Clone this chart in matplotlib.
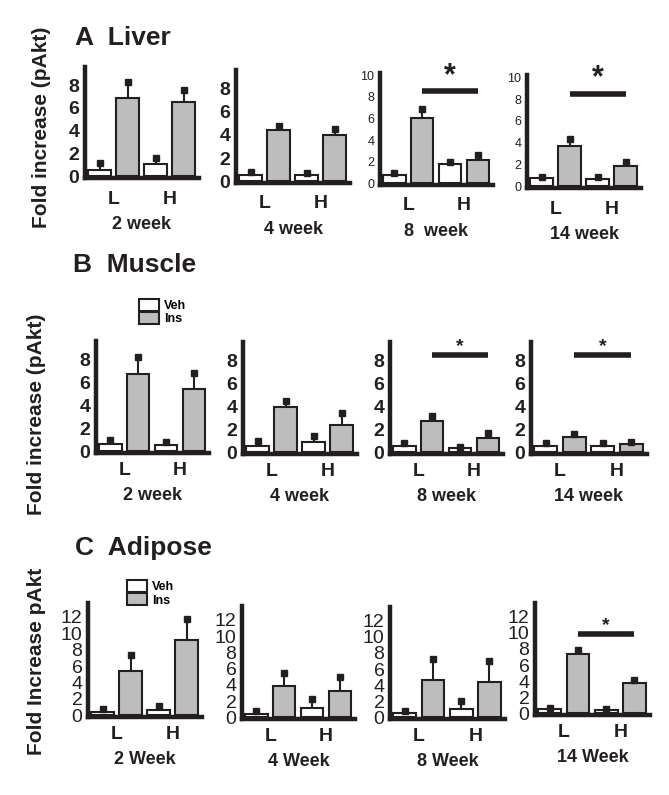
import numpy as np
import matplotlib
matplotlib.use("Agg")
import matplotlib.pyplot as plt
from matplotlib.patches import Patch

plt.rcParams['font.family'] = ['Liberation Sans', 'DejaVu Sans']

W, H = 669, 795
ink = '#231f20'
gray = '#bdbdbd'

# bar order in every panel: Veh L, Ins L, Veh H, Ins H
groups = ['L', 'H']
series = ['Veh', 'Ins']

liver_weeks = ['2 week', '4 week', '8  week', '14 week']
liver_mean = [[0.55, 6.9, 1.1, 6.5], [0.55, 4.4, 0.5, 4.0], [0.8, 6.0, 1.8, 2.2], [0.75, 3.7, 0.65, 1.9]]
liver_err = [[0.65, 1.4, 0.5, 1.1], [0.25, 0.4, 0.2, 0.5], [0.2, 0.9, 0.2, 0.4], [0.1, 0.6, 0.25, 0.3]]
liver_sig = [None, None, 8.5, 8.5]

muscle_weeks = ['2 week', '4 week', '8 week', '14 week']
muscle_mean = [[0.6, 6.7, 0.55, 5.4], [0.55, 3.9, 0.9, 2.4], [0.55, 2.7, 0.35, 1.2], [0.55, 1.3, 0.55, 0.7]]
muscle_err = [[0.4, 1.5, 0.25, 1.4], [0.45, 0.6, 0.5, 1.0], [0.25, 0.5, 0.15, 0.5], [0.25, 0.3, 0.3, 0.2]]
muscle_sig = [None, None, 8.5, 8.5]

adipose_weeks = ['2 Week', '4 Week', '8 Week', '14 Week']
adipose_mean = [[0.4, 5.4, 0.65, 9.2], [0.4, 3.8, 1.2, 3.2], [0.5, 4.6, 1.0, 4.4], [0.5, 7.4, 0.4, 3.8]]
adipose_err = [[0.4, 1.9, 0.45, 2.5], [0.4, 1.6, 1.1, 1.8], [0.3, 2.6, 1.0, 2.6], [0.2, 0.5, 0.2, 0.4]]
adipose_sig = [None, None, None, 9.8]

# panel boxes in pixels: left, right, top, bottom
boxes_A = [(85, 199, 67, 178), (236, 350, 70, 183), (380, 493, 73, 185), (527, 641, 75, 188)]
boxes_B = [(96, 209, 341, 453), (243, 357, 342, 454), (390, 503, 342, 454), (531, 647, 342, 454)]
boxes_C = [(88, 202, 603, 717), (242, 355, 606, 719), (390, 505, 607, 719), (535, 650, 603, 715)]

fig = plt.figure(figsize=(W / 100, H / 100), dpi=100)


def px_axes(box):
    l, r, t, b = box
    return fig.add_axes([l / W, 1 - b / H, (r - l) / W, (b - t) / H])


def panel(box, mean, err, week, ylim, yticks, tickfont, sig, starsize, xpad, lpad):
    ax = px_axes(box)
    x = np.arange(4)
    colors = ['white', gray, 'white', gray]
    ax.bar(x, mean, width=0.8, color=colors, edgecolor=ink, linewidth=1.5, zorder=2)
    top = np.array(mean) + np.array(err)
    ax.vlines(x, mean, top, color=ink, linewidth=1.5, zorder=1)
    ax.plot(x, top, 's', color=ink, markersize=5, zorder=3)
    ax.set_xlim(-0.52, 3.55)
    ax.set_ylim(*ylim)
    ax.set_yticks(yticks)
    ax.set_yticklabels([str(v) for v in yticks], **tickfont)
    ax.set_xticks([0.5, 2.5])
    ax.set_xticklabels(groups, fontsize=14, fontweight='bold', color=ink)
    ax.tick_params(length=0, pad=4)
    ax.tick_params(axis='x', pad=xpad)
    for s in ['top', 'right']:
        ax.spines[s].set_visible(False)
    for s in ['left', 'bottom']:
        ax.spines[s].set_linewidth(3.2)
        ax.spines[s].set_color(ink)
    ax.set_xlabel(week, fontsize=13, fontweight='bold', color=ink, labelpad=lpad)
    if sig is not None:
        ax.plot([1, 3], [sig, sig], color=ink, linewidth=4, solid_capstyle='butt')
        ax.text(2, sig, '*', ha='center', va='bottom', fontsize=starsize,
                fontweight='bold', color=ink)
    ax.patch.set_alpha(0)
    return ax


big = dict(fontsize=14, fontweight='bold', color=ink)
small = dict(fontsize=9, color=ink)
cfont = dict(fontsize=14, color=ink)

for i in range(4):
    tf = big if i < 2 else small
    yl = (-0.15, 9.6) if i < 2 else (-0.15, 10.2)
    yt = [0, 2, 4, 6, 8] if i < 2 else [0, 2, 4, 6, 8, 10]
    panel(boxes_A[i], liver_mean[i], liver_err[i], liver_weeks[i], yl, yt, tf, liver_sig[i], 22, 9, 6)

for i in range(4):
    panel(boxes_B[i], muscle_mean[i], muscle_err[i], muscle_weeks[i], (-0.15, 9.6),
          [0, 2, 4, 6, 8], big, muscle_sig[i], 14, 6.5, 6)

for i in range(4):
    panel(boxes_C[i], adipose_mean[i], adipose_err[i], adipose_weeks[i], (-0.2, 13.7),
          [0, 2, 4, 6, 8, 10, 12], cfont, adipose_sig[i], 14, 6.5, 6)

# section titles
fig.text(75 / W, 1 - 38 / H, 'A  Liver', fontsize=19, fontweight='bold', color=ink, va='center')
fig.text(73 / W, 1 - 265 / H, 'B  Muscle', fontsize=19, fontweight='bold', color=ink, va='center')
fig.text(75 / W, 1 - 548 / H, 'C  Adipose', fontsize=19, fontweight='bold', color=ink, va='center')

# y labels
fig.text(42 / W, 1 - 127 / H, 'Fold increase (pAkt)', rotation=90, fontsize=15,
         fontweight='bold', color=ink, ha='center', va='center')
fig.text(37 / W, 1 - 414 / H, 'Fold increase (pAkt)', rotation=90, fontsize=15,
         fontweight='bold', color=ink, ha='center', va='center')
fig.text(37 / W, 1 - 661 / H, 'Fold Increase pAkt', rotation=90, fontsize=15,
         fontweight='bold', color=ink, ha='center', va='center')

# legends
handles = [Patch(facecolor='white', edgecolor=ink, linewidth=1.5),
           Patch(facecolor=gray, edgecolor=ink, linewidth=1.5)]
for (lx, ty) in [(139, 299), (127, 580)]:
    fig.legend(handles, series, loc='upper left', bbox_to_anchor=(lx / W, 1 - ty / H),
               frameon=False, prop=dict(size=9, weight='bold'), handlelength=1.6,
               handleheight=1.1, handletextpad=0.4, labelspacing=0.0, borderpad=0,
               borderaxespad=0)

fig.savefig('out.png', dpi=100)
